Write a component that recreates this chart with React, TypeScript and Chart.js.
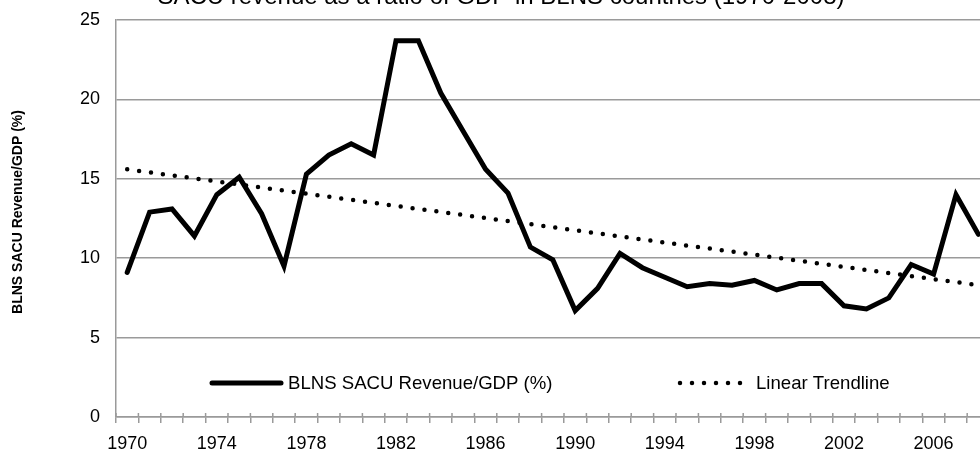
import React, { useEffect, useRef } from 'react';
import { Chart, registerables } from 'chart.js';

Chart.register(...registerables);

const years = [
  '1970', '1971', '1972', '1973', '1974', '1975', '1976', '1977', '1978', '1979',
  '1980', '1981', '1982', '1983', '1984', '1985', '1986', '1987', '1988', '1989',
  '1990', '1991', '1992', '1993', '1994', '1995', '1996', '1997', '1998', '1999',
  '2000', '2001', '2002', '2003', '2004', '2005', '2006', '2007', '2008',
];

const revenueGdp = [
  9.1, 12.9, 13.1, 11.4, 14.0, 15.1, 12.8, 9.5, 15.3, 16.5,
  17.2, 16.5, 23.7, 23.7, 20.4, 18.0, 15.6, 14.1, 10.7, 9.9,
  6.7, 8.1, 10.3, 9.4, 8.8, 8.2, 8.4, 8.3, 8.6, 8.0,
  8.4, 8.4, 7.0, 6.8, 7.5, 9.6, 9.0, 14.0, 11.5,
];

const trendStart = { x: '1970', y: 15.6 };
const trendEnd = { x: '2008', y: 8.3 };

const xTickLabels = ['1970', '1974', '1978', '1982', '1986', '1990', '1994', '1998', '2002', '2006'];
const yTicks = [0, 5, 10, 15, 20, 25];

const seriesLabel = 'BLNS SACU Revenue/GDP (%)';
const trendLabel = 'Linear Trendline';
const titleText = 'SACU revenue as a ratio of GDP in BLNS countries (1970-2008)';
const yTitle = 'BLNS SACU Revenue/GDP (%)';

const FONT = '"Liberation Sans", Arial, sans-serif';
const GRID = '#9a9a9a';

const decorPlugin = {
  id: 'decor',
  afterDraw(chart: any) {
    const { ctx, chartArea } = chart;
    const xs = chart.scales.x;
    ctx.save();
    // small tick stubs above the x axis
    ctx.strokeStyle = GRID;
    ctx.lineWidth = 1.5;
    for (let i = 0; i <= years.length; i++) {
      const px = xs.getPixelForValue(i - 0.5);
      ctx.beginPath();
      ctx.moveTo(px, chartArea.bottom - 4);
      ctx.lineTo(px, chartArea.bottom);
      ctx.stroke();
    }
    // title (partly outside the canvas at the top)
    ctx.fillStyle = '#000';
    ctx.font = `24px ${FONT}`;
    ctx.textAlign = 'center';
    ctx.textBaseline = 'alphabetic';
    ctx.fillText(titleText, 501, 4);

    // y axis title
    ctx.save();
    ctx.translate(18, chartArea.top + 192);
    ctx.rotate(-Math.PI / 2);
    ctx.font = `bold 14px ${FONT}`;
    ctx.textAlign = 'center';
    ctx.textBaseline = 'middle';
    ctx.fillText(yTitle, 0, 0);
    ctx.restore();

    // legend inside the plot area
    const ly = chartArea.bottom - 34;
    const l = chartArea.left;
    ctx.font = `18.6px ${FONT}`;
    ctx.textAlign = 'left';
    ctx.textBaseline = 'middle';
    ctx.strokeStyle = '#000';
    ctx.lineCap = 'round';
    ctx.lineWidth = 5;
    ctx.setLineDash([]);
    ctx.beginPath();
    ctx.moveTo(l + 96, ly);
    ctx.lineTo(l + 165, ly);
    ctx.stroke();
    ctx.fillText(chart.data.datasets[0].label, l + 172, ly + 1);

    ctx.lineWidth = 4.5;
    ctx.setLineDash([0, 12]);
    ctx.beginPath();
    ctx.moveTo(l + 564, ly);
    ctx.lineTo(l + 627, ly);
    ctx.stroke();
    ctx.setLineDash([]);
    ctx.fillText(chart.data.datasets[1].label, l + 640, ly + 1);
    ctx.restore();
  },
};

export default function App() {
  const ref = useRef<HTMLCanvasElement | null>(null);

  useEffect(() => {
    if (!ref.current) return;
    const chart = new Chart(ref.current, {
      type: 'line',
      data: {
        labels: years,
        datasets: [
          {
            label: seriesLabel,
            data: revenueGdp,
            borderColor: '#000',
            borderWidth: 5,
            borderCapStyle: 'round',
            borderJoinStyle: 'miter',
            pointRadius: 0,
            tension: 0,
            fill: false,
          },
          {
            label: trendLabel,
            data: [trendStart, trendEnd] as any,
            borderColor: '#000',
            borderWidth: 4.5,
            borderCapStyle: 'round',
            borderDash: [0, 12],
            pointRadius: 0,
            tension: 0,
            fill: false,
          },
        ],
      },
      options: {
        animation: false,
        responsive: false,
        layout: { padding: { top: 20, right: 20.4, left: 0, bottom: 0 } },
        plugins: {
          legend: { display: false },
          title: { display: false },
          tooltip: { enabled: false },
        },
        scales: {
          x: {
            type: 'category',
            offset: true,
            grid: {
              offset: true,
              drawOnChartArea: false,
              drawTicks: true,
              tickLength: 6,
              color: GRID,
              lineWidth: 1.5,
            },
            border: { color: GRID, width: 1.5 },
            ticks: {
              autoSkip: false,
              maxRotation: 0,
              minRotation: 0,
              color: '#000',
              padding: 10,
              font: { family: FONT, size: 18 },
              callback: (_v: any, i: number) => (xTickLabels.includes(years[i]) ? years[i] : ''),
            },
            afterFit: (s: any) => {
              s.height = 43;
              s.paddingLeft = 0;
              s.paddingRight = 0;
            },
          },
          y: {
            min: yTicks[0],
            max: yTicks[yTicks.length - 1],
            afterBuildTicks: (s: any) => {
              s.ticks = yTicks.map((v) => ({ value: v }));
            },
            grid: { color: GRID, lineWidth: 1.5, drawTicks: false },
            border: { color: GRID, width: 1.5 },
            ticks: {
              color: '#000',
              padding: 16,
              font: { family: FONT, size: 18 },
            },
            title: { display: false },
            afterFit: (s: any) => {
              s.width = 116;
              s.paddingTop = 0;
              s.paddingBottom = 0;
            },
          },
        },
      } as any,
      plugins: [decorPlugin],
    });
    return () => chart.destroy();
  }, []);

  return (
    <div style={{ position: 'fixed', left: 0, top: 0, width: 980, height: 451, overflow: 'hidden', background: '#fff' }}>
      <canvas ref={ref} width={1010} height={460} style={{ display: 'block' }} />
    </div>
  );
}
